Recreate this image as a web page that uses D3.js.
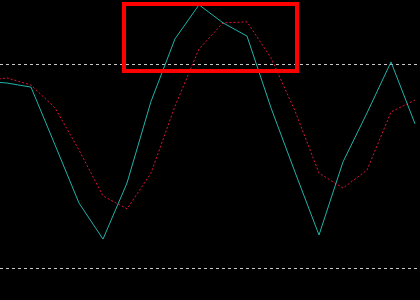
<!DOCTYPE html>
<html>
<head>
<meta charset="utf-8">
<style>
  html, body { margin: 0; padding: 0; background: #000; }
  svg { display: block; }
</style>
</head>
<body>
<script src="https://cdn.jsdelivr.net/npm/d3@7"></script>
<script>
// bar index -> stochastic values
var bars = d3.range(19);
var mainLine = [75.0, 74.4, 73.2, 56.2, 39.1, 28.5, 45.0, 69.0, 87.4, 97.4,
                92.1, 88.2, 67.1, 48.2, 29.7, 51.2, 65.6, 80.6, 62.4];
var signalLine = [75.0, 75.9, 73.8, 67.1, 54.7, 41.2, 37.4, 47.9, 67.6, 84.4,
                  92.1, 92.4, 81.8, 66.2, 47.9, 43.5, 48.8, 65.9, 69.4];
var levels = [80, 20];

var width = 420, height = 300;

var svg = d3.select("body").append("svg")
    .attr("width", width)
    .attr("height", height);

svg.append("rect")
    .attr("width", width)
    .attr("height", height)
    .attr("fill", "#000");

// 24px per bar, last bar at right edge
var x = d3.scaleLinear().domain([0, 18]).range([-17, 415]);
var y = d3.scaleLinear().domain([0, 100]).range([336, -4]);

// level lines
svg.selectAll(".level")
    .data(levels)
    .enter()
    .append("line")
    .attr("class", "level")
    .attr("x1", 0)
    .attr("x2", width)
    .attr("y1", function(d){ return Math.round(y(d)) + 0.5; })
    .attr("y2", function(d){ return Math.round(y(d)) + 0.5; })
    .attr("stroke", "#c8c8c8")
    .attr("stroke-width", 1)
    .attr("stroke-dasharray", "3,3");

var line = d3.line()
    .x(function(d, i){ return x(bars[i]); })
    .y(function(d){ return y(d); });

// signal (dotted red)
svg.append("path")
    .datum(signalLine)
    .attr("fill", "none")
    .attr("stroke", "#dc143c")
    .attr("stroke-width", 1)
    .attr("stroke-dasharray", "2,2")
    .attr("d", line);

// main (cyan)
svg.append("path")
    .datum(mainLine)
    .attr("fill", "none")
    .attr("stroke", "#20b2aa")
    .attr("stroke-width", 1)
    .attr("d", line);

// highlight box
svg.append("rect")
    .attr("x", 124)
    .attr("y", 4)
    .attr("width", 173)
    .attr("height", 67)
    .attr("fill", "none")
    .attr("stroke", "#ff0000")
    .attr("stroke-width", 4);
</script>
</body>
</html>
